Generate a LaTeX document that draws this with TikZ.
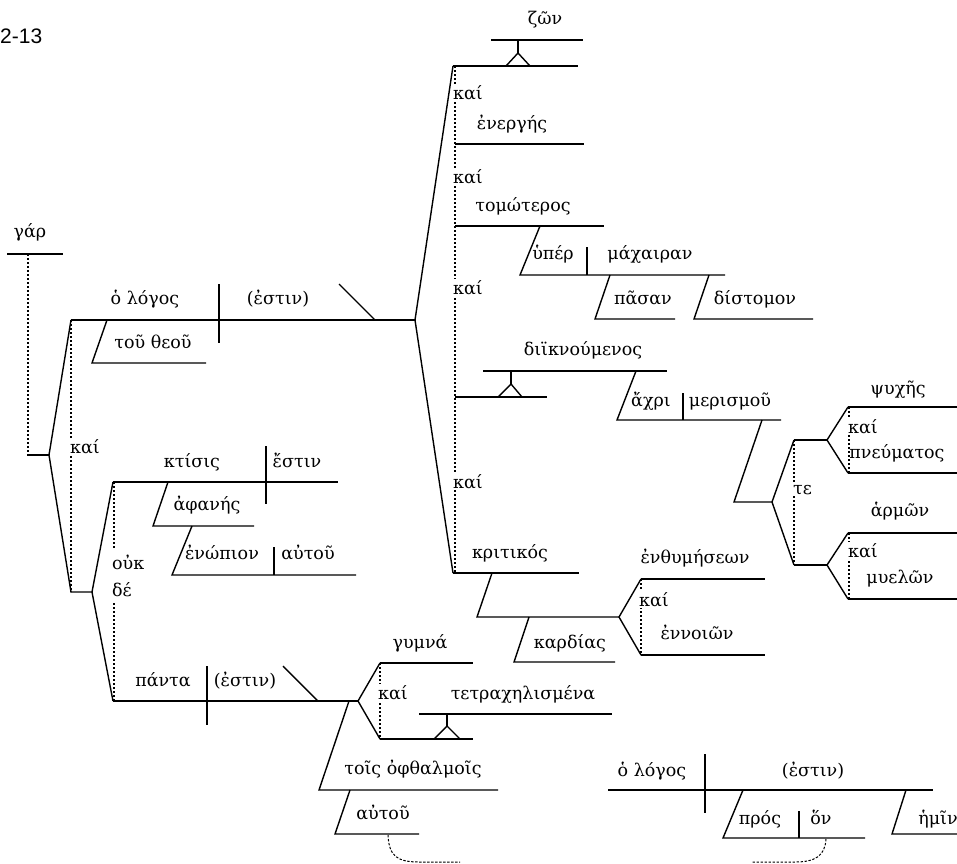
\documentclass[tikz,border=0pt]{standalone}
\usepackage{fontspec}
\newfontfamily\gk{DejaVu Serif}
\newfontfamily\lsans{Liberation Sans}
\begin{document}
\begin{tikzpicture}[x=1pt,y=-1pt,
  ln/.style={line width=1.4pt},
  dl/.style={line width=2.1pt, dash pattern=on 2pt off 2pt},
  ds/.style={line width=1pt, dash pattern=on 2.4pt off 1.6pt},
  wd/.style={font=\gk\fontsize{17.5}{20}\selectfont, inner sep=0pt, anchor=base},
  wl/.style={wd, anchor=base west},
  cj/.style={wl, fill=white, inner sep=1pt}]
\useasboundingbox (0,0) rectangle (957,863);
\fill[white] (0,0) rectangle (957,863);
\node[font=\lsans\fontsize{21}{24}\selectfont, inner sep=0pt, anchor=base west] (ref) at (0,43) {2-13};

% ---------- left: gar and main compound ----------
\coordinate (garL) at (7,254); \coordinate (garR) at (63,254);
\coordinate (garD) at (28,254); \coordinate (garB) at (28,455);
\coordinate (cj0) at (49,455);
\coordinate (c1) at (71,320); \coordinate (c2a) at (71,592); \coordinate (c2) at (92,592);
\draw[ln] (garL) -- (garR);
\draw[dl] (garD) -- (garB);
\draw[ln] (27,455) -- (cj0);
\draw[ln] (c1) -- (cj0) -- (c2a) -- (c2);
\draw[dl] (c1) -- (c2a);
\node[wd] (gar) at (30,237) {γάρ};
\node[cj] (kai0) at (69,453) {καί};

% clause 1
\coordinate (m1) at (415,320);
\draw[ln] (c1) -- (m1);
\draw[ln] (219,284) -- (219,343);
\draw[ln] (339,284) -- (375,320);
\draw[ln] (107,320) -- (92,363) -- (206,363);
\node[wd] (logos1) at (145,304) {ὁ λόγος};
\node[wd] (estin1) at (278,304) {(ἐστιν)};
\node[wd] (theou) at (153,348) {τοῦ θεοῦ};

% clause 2a/2b fork
\coordinate (k1) at (113,482); \coordinate (p1) at (113,701);
\draw[ln] (k1) -- (c2) -- (p1);
\draw[ln] (k1) -- (338,482);
\draw[ln] (266,446) -- (266,504);
\draw[ln] (168,482) -- (153,526) -- (254,526);
\draw[ln] (192,526) -- (172,575) -- (356,575);
\draw[ln] (274,547) -- (274,575);
\draw[dl] (114,482) -- (114,549);
\draw[dl] (114,603) -- (114,701);
\node[wd] (ktisis) at (192,467) {κτίσις};
\node[wd] (estin2) at (297,467) {ἔστιν};
\node[wd] (aphanes) at (207,510) {ἀφανής};
\node[wd] (enopion) at (222,559) {ἐνώπιον};
\node[wd] (autou1) at (308,559) {αὐτοῦ};
\node[wl] (ouk) at (112,569) {οὐκ};
\node[wl] (de) at (112,596) {δέ};

% panta clause
\coordinate (pf) at (358,701);
\draw[ln] (p1) -- (pf);
\draw[ln] (207,666) -- (207,725);
\draw[ln] (283,666) -- (318,701);
\draw[ln] (349,701) -- (319,790) -- (498,790);
\draw[ln] (350,790) -- (335,834) -- (419,834);
\draw[ln] (380,663) -- (pf) -- (380,739);
\draw[ln] (380,663) -- (473,663);
\draw[ln] (380,739) -- (473,739);
\draw[ln] (434,739) -- (447,726) -- (460,739);
\draw[ln] (447,726) -- (447,714);
\draw[ln] (419,714) -- (612,714);
\draw[dl] (380,663) -- (380,739);
\node[wd] (panta) at (163,686) {πάντα};
\node[wd] (estin3) at (245,686) {(ἐστιν)};
\node[wd] (gymna) at (420,648) {γυμνά};
\node[cj] (kai5) at (377,699) {καί};
\node[wd] (tetr) at (523,699) {τετραχηλισμένα};
\node[wd] (ophth) at (413,774) {τοῖς ὀφθαλμοῖς};
\node[wd] (autou2) at (383,819) {αὐτοῦ};
\draw[ds] (388,835) .. controls (389,857) and (398,862) .. (420,862) -- (460,862);

% ---------- right column of predicate adjectives ----------
\coordinate (ra) at (453,66); \coordinate (rb) at (453,573);
\draw[ln] (ra) -- (m1) -- (rb);
\draw[dl] (455,66) -- (455,573);
% zon
\draw[ln] (ra) -- (578,66);
\draw[ln] (506,66) -- (518,53) -- (530,66);
\draw[ln] (518,53) -- (518,40);
\draw[ln] (491,40) -- (583,40);
\node[wd] (zon) at (545,24) {ζῶν};
\node[cj] (kai1) at (452,99) {καί};
% energes
\draw[ln] (455,144) -- (584,144);
\node[wd] (energes) at (512,129) {ἐνεργής};
\node[cj] (kai2) at (452,183) {καί};
% tomoteros
\draw[ln] (455,226) -- (604,226);
\draw[ln] (540,226) -- (520,275) -- (725,275);
\draw[ln] (587,247) -- (587,275);
\draw[ln] (610,275) -- (595,319) -- (675,319);
\draw[ln] (709,275) -- (694,319) -- (813,319);
\node[wd] (tomot) at (523,211) {τομώτερος};
\node[wd] (hyper) at (553,259) {ὑπέρ};
\node[wd] (mach) at (650,259) {μάχαιραν};
\node[wd] (pasan) at (643,304) {πᾶσαν};
\node[wd] (distom) at (755,304) {δίστομον};
\node[cj] (kai3) at (452,294) {καί};
% diikn
\draw[ln] (455,397) -- (547,397);
\draw[ln] (498,397) -- (511,384) -- (522,397);
\draw[ln] (511,384) -- (511,371);
\draw[ln] (483,371) -- (667,371);
\draw[ln] (636,371) -- (617,420) -- (781,420);
\draw[ln] (683,393) -- (683,420);
\node[wd] (diikn) at (583,355) {διϊκνούμενος};
\node[wd] (achri) at (651,406) {ἄχρι};
\node[wd] (meris) at (730,406) {μερισμοῦ};
\coordinate (tf) at (772,502);
\draw[ln] (762,420) -- (734,502) -- (tf);
\draw[ln] (794,440) -- (tf) -- (794,565);
\draw[ln] (794,440) -- (827,440);
\draw[ln] (794,565) -- (827,565);
\draw[ln] (848,407) -- (827,440) -- (848,473);
\draw[ln] (848,533) -- (827,565) -- (848,599);
\draw[ln] (848,407) -- (957,407);
\draw[ln] (848,473) -- (957,473);
\draw[ln] (848,533) -- (957,533);
\draw[ln] (848,599) -- (957,599);
\draw[dl] (794,440) -- (794,565);
\draw[dl] (849,407) -- (849,473);
\draw[dl] (849,533) -- (849,599);
\node[cj] (te) at (792,494) {τε};
\node[wd] (psyches) at (898,394) {ψυχῆς};
\node[cj] (kai6) at (847,433) {καί};
\node[wd] (pneum) at (897,458) {πνεύματος};
\node[wd] (harmon) at (900,516) {ἁρμῶν};
\node[cj] (kai7) at (847,557) {καί};
\node[wd] (myelon) at (900,583) {μυελῶν};
\node[cj] (kai4) at (452,488) {καί};
% kritikos
\draw[ln] (rb) -- (579,573);
\coordinate (kf) at (619,617);
\draw[ln] (492,573) -- (477,617) -- (kf);
\draw[ln] (529,617) -- (514,662) -- (615,662);
\draw[ln] (641,579) -- (kf) -- (641,655);
\draw[ln] (641,579) -- (765,579);
\draw[ln] (641,655) -- (765,655);
\draw[dl] (641,579) -- (641,655);
\node[wd] (krit) at (510,558) {κριτικός};
\node[wd] (kard) at (570,648) {καρδίας};
\node[wd] (enthym) at (695,563) {ἐνθυμήσεων};
\node[cj] (kai8) at (638,606) {καί};
\node[wd] (ennoi) at (697,639) {ἐννοιῶν};

% ---------- bottom right clause ----------
\draw[ln] (608,790) -- (933,790);
\draw[ln] (705,754) -- (705,813);
\draw[ln] (743,790) -- (723,838) -- (865,838);
\draw[ln] (799,811) -- (799,838);
\draw[ln] (906,790) -- (892,834) -- (957,834);
\node[wd] (logos2) at (652,776) {ὁ λόγος};
\node[wd] (estin4) at (813,776) {(ἐστιν)};
\node[wd] (pros) at (760,824) {πρός};
\node[wd] (hon) at (821,824) {ὅν};
\node[wd] (hemin) at (938,824) {ἡμῖν};
\draw[ds] (826,839) .. controls (825,856) and (815,862) .. (795,862) -- (752,862);
\end{tikzpicture}
\end{document}
